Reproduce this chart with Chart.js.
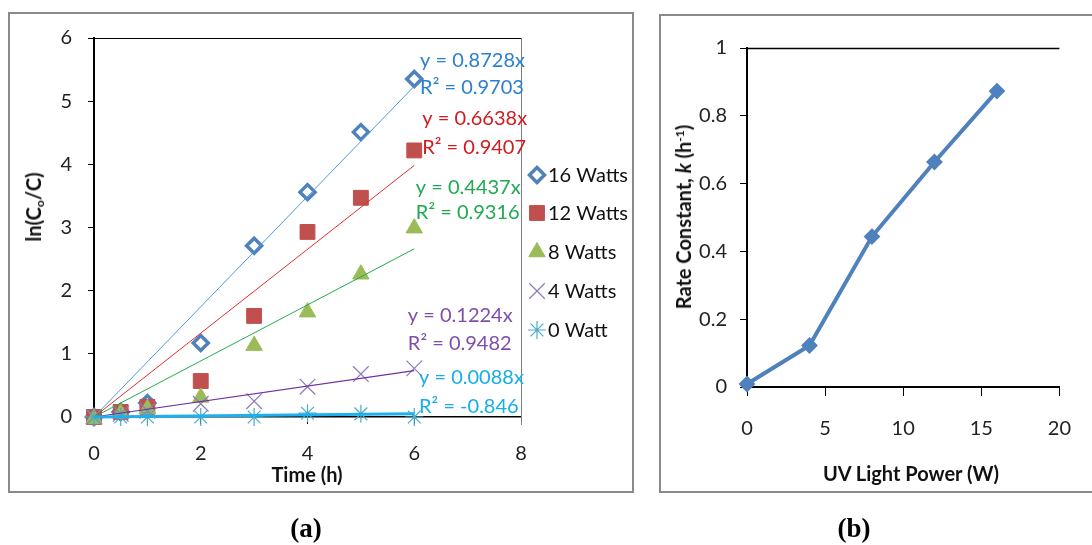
<!DOCTYPE html>
<html>
<head>
<meta charset="utf-8">
<script src="https://cdn.jsdelivr.net/npm/chart.js"></script>
<style>
  html, body { margin:0; padding:0; background:#fff; }
  body { width:1092px; height:545px; position:relative; overflow:hidden; font-family: Lato, "Open Sans", sans-serif; }
  .box { position:absolute; border:2px solid #8a8a8a; box-sizing:border-box; }
  canvas { position:absolute; top:0; }
  .t { position:absolute; white-space:nowrap; color:#111; font-weight:bold; font-size:20px; transform:translate(-50%,-50%); }
  .rot { transform:translate(-50%,-50%) rotate(-90deg); }
  .cap { position:absolute; font-family:"Liberation Serif", "Times New Roman", serif; font-weight:bold; font-size:27px; transform:translate(-50%,-50%); color:#000; }
  sub { font-size:0.6em; vertical-align:-0.25em; line-height:0; }
  sup { font-size:0.6em; vertical-align:0.55em; line-height:0; }
</style>
</head>
<body>
<div class="box" style="left:8px;top:12px;width:626px;height:481px;"></div>
<div class="box" style="left:659px;top:14px;width:460px;height:479px;"></div>
<canvas id="ca" width="645" height="500" style="left:0px;"></canvas>
<canvas id="cb" width="442" height="500" style="left:650px;"></canvas>
<div class="t rot" style="left:33px;top:207px;">ln(C<sub>o</sub>/C)</div>
<div class="t" style="left:307px;top:474px;">Time (h)</div>
<div class="t rot" style="left:683px;top:217px;">Rate Constant, <i>k</i> (h<sup>-1</sup>)</div>
<div class="t" style="left:911px;top:473px;">UV Light Power (W)</div>
<div class="cap" style="left:306px;top:528px;">(a)</div>
<div class="cap" style="left:854px;top:528px;">(b)</div>
<script>
// ---------- data (a) ----------
const timeH   = [0, 0.5, 1, 2, 3, 4, 5, 6];
const w16     = [0, 0.08, 0.22, 1.17, 2.71, 3.56, 4.51, 5.35];
const w12     = [0, 0.08, 0.16, 0.57, 1.60, 2.93, 3.47, 4.22];
const w8      = [-0.03, 0.06, 0.13, 0.31, 1.13, 1.66, 2.26, 2.99];
const w4      = [0, 0.05, 0.10, 0.21, 0.25, 0.48, 0.68, 0.77];
const w0      = [0, 0, 0, 0, 0, 0.06, 0.05, 0];
const seriesNames = ["16 Watts", "12 Watts", "8 Watts", "4 Watts", "0 Watt"];
// fitted trendline slopes (y = kx) and R² as printed
const slopes  = [0.8728, 0.6638, 0.4437, 0.1224, 0.0088];
const r2Text  = ["0.9703", "0.9407", "0.9316", "0.9482", "-0.846"];
const trendEnd = 6;
// ---------- data (b) ----------
const powerW  = [0, 4, 8, 12, 16];
const rateK   = [0.0088, 0.1224, 0.4437, 0.6638, 0.8728];

// ---------- styles ----------
const FONT = "Lato, 'Open Sans', sans-serif";
const markerStyles = [
  { pointStyle:'rectRot', radius:7.5, bg:'#ffffff', border:'#4F81BD', bw:3.5 },
  { pointStyle:'rect', radius:10.5, bg:'#C0504D', border:'#C0504D', bw:1 },
  { pointStyle:'triangle', radius:9.5, bg:'#9BBB59', border:'#9BBB59', bw:1 },
  { pointStyle:'crossRot', radius:11, bg:'#8E78B8', border:'#8E78B8', bw:1.2 },
  { pointStyle:'star', radius:9, bg:'#4BACC6', border:'#4BACC6', bw:1.2 }
];
const trendColors = ['#4A9AE0', '#E2302C', '#22AE4C', '#7030A0', '#1DB0EE'];
const trendWidths = [1, 1, 1, 1.2, 3];
const labelColors = ['#2A80CF', '#D21A1F', '#1FAA50', '#7E4FAA', '#16AEE8'];
// trendline label anchors (data units: left x, y of first line, y of second line)
const labelPos = [
  [6.11, 5.65, 5.21],
  [6.15, 4.73, 4.27],
  [6.03, 3.64, 3.23],
  [5.88, 1.61, 1.17],
  [6.09, 0.62, 0.17]
];
const legendY = [175, 213, 252, 291, 330];

const seriesVals = [w16, w12, w8, w4, w0];
const datasetsA = [];
seriesVals.forEach((vals, i) => {
  const m = markerStyles[i];
  datasetsA.push({
    label: seriesNames[i],
    data: timeH.map((t, j) => ({ x: t, y: vals[j] })),
    showLine: false,
    pointStyle: m.pointStyle,
    pointRadius: m.radius,
    pointHoverRadius: m.radius,
    pointBackgroundColor: m.bg,
    pointBorderColor: m.border,
    pointBorderWidth: m.bw,
    order: 10 - i,
    clip: false
  });
});
slopes.forEach((k, i) => {
  datasetsA.push({
    type: 'line',
    label: 'trend' + i,
    data: [{ x: 0, y: 0 }, { x: trendEnd, y: k * trendEnd }],
    borderColor: trendColors[i],
    borderWidth: trendWidths[i],
    pointRadius: 0,
    fill: false,
    order: 5 - i,
    clip: false
  });
});

const decoA = {
  id: 'decoA',
  afterDraw(chart) {
    const ctx = chart.ctx, ca = chart.chartArea;
    const xs = chart.scales.x, ys = chart.scales.y;
    ctx.save();
    // plot frame top & right
    ctx.strokeStyle = '#000'; ctx.lineWidth = 1;
    ctx.beginPath(); ctx.moveTo(ca.left, ca.top + 0.5); ctx.lineTo(ca.right, ca.top + 0.5); ctx.stroke();
    ctx.strokeStyle = '#808080';
    ctx.beginPath(); ctx.moveTo(ca.right + 0.5, ca.top); ctx.lineTo(ca.right + 0.5, ca.bottom + 8); ctx.stroke();
    // trendline labels
    ctx.font = "20px " + FONT;
    ctx.textBaseline = 'middle'; ctx.textAlign = 'left';
    slopes.forEach((k, i) => {
      const p = labelPos[i];
      ctx.fillStyle = labelColors[i];
      const x = xs.getPixelForValue(p[0]);
      ctx.fillText('y = ' + k.toFixed(4) + 'x', x, ys.getPixelForValue(p[1]));
      ctx.fillText('R\u00B2 = ' + r2Text[i], x, ys.getPixelForValue(p[2]));
    });
    // legend
    seriesNames.forEach((name, i) => {
      const m = markerStyles[i];
      const y = legendY[i];
      ctx.fillStyle = m.bg; ctx.strokeStyle = m.border; ctx.lineWidth = m.bw;
      if (Chart.helpers && Chart.helpers.drawPoint) {
        Chart.helpers.drawPoint(ctx, { pointStyle: m.pointStyle, radius: m.radius, rotation: 0, borderWidth: m.bw }, 537, y);
      }
      ctx.fillStyle = '#111';
      ctx.font = "20px " + FONT;
      ctx.fillText(name, 548, y + 1);
    });
    ctx.restore();
  }
};

new Chart(document.getElementById('ca'), {
  type: 'scatter',
  data: { datasets: datasetsA },
  options: {
    responsive: false,
    animation: false,
    events: [],
    layout: { padding: { left: 0, top: 38, right: 124, bottom: 0 } },
    plugins: { legend: { display: false }, tooltip: { enabled: false } },
    scales: {
      x: {
        type: 'linear', min: 0, max: 8,
        afterFit(s) { s.height = 83; },
        ticks: { stepSize: 2, color: '#222', font: { family: FONT, size: 20 }, padding: 18 },
        grid: { drawOnChartArea: false, drawTicks: true, tickLength: 7, color: '#000', lineWidth: 1 },
        border: { display: true, color: '#000', width: 1.5 }
      },
      y: {
        type: 'linear', min: 0, max: 6,
        afterFit(s) { s.width = 94; },
        ticks: { stepSize: 1, color: '#222', font: { family: FONT, size: 20 }, padding: 16 },
        grid: { drawOnChartArea: false, drawTicks: true, tickLength: 6, color: '#000', lineWidth: 1 },
        border: { display: true, color: '#000', width: 2 }
      }
    }
  },
  plugins: [decoA]
});

const decoB = {
  id: 'decoB',
  afterDraw(chart) {
    const ctx = chart.ctx, ca = chart.chartArea;
    ctx.save();
    ctx.strokeStyle = '#000'; ctx.lineWidth = 1.5;
    ctx.beginPath(); ctx.moveTo(ca.left, ca.top + 0.5); ctx.lineTo(ca.right, ca.top + 0.5); ctx.stroke();
    ctx.restore();
  }
};

new Chart(document.getElementById('cb'), {
  type: 'scatter',
  data: {
    datasets: [{
      label: 'k',
      data: powerW.map((p, j) => ({ x: p, y: rateK[j] })),
      showLine: true,
      borderColor: '#4F81BD',
      borderWidth: 4,
      pointStyle: 'rectRot',
      pointRadius: 7,
      pointHoverRadius: 7,
      pointBackgroundColor: '#4F81BD',
      pointBorderColor: '#4F81BD',
      pointBorderWidth: 2,
      clip: false
    }]
  },
  options: {
    responsive: false,
    animation: false,
    events: [],
    layout: { padding: { left: 0, top: 48, right: 19, bottom: 0 } },
    plugins: { legend: { display: false }, tooltip: { enabled: false } },
    scales: {
      x: {
        type: 'linear', min: 0, max: 20,
        afterFit(s) { s.height = 113; },
        ticks: { stepSize: 5, color: '#222', font: { family: FONT, size: 20 }, padding: 21 },
        grid: { drawOnChartArea: false, drawTicks: true, tickLength: 9, color: '#000', lineWidth: 1 },
        border: { display: true, color: '#000', width: 2 }
      },
      y: {
        type: 'linear', min: 0, max: 1,
        afterFit(s) { s.width = 97; },
        ticks: {
          stepSize: 0.2, color: '#222', font: { family: FONT, size: 20 }, padding: 13,
          callback: (v) => String(Number(v.toFixed(1)))
        },
        grid: { drawOnChartArea: false, drawTicks: true, tickLength: 7, color: '#000', lineWidth: 1 },
        border: { display: true, color: '#000', width: 2 }
      }
    }
  },
  plugins: [decoB]
});
</script>
</body>
</html>
